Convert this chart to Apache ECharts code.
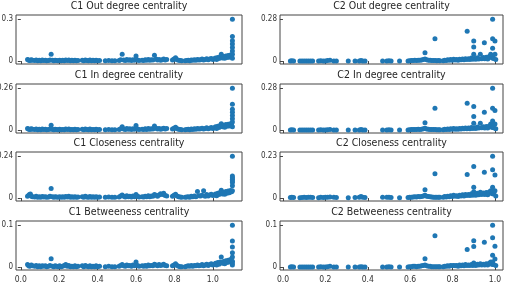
<!DOCTYPE html>
<html><head><meta charset="utf-8">
<script src="https://cdn.jsdelivr.net/npm/echarts@6/dist/echarts.min.js"></script>
<style>html,body{margin:0;padding:0;background:#fff}#c{width:509px;height:291px}</style>
</head><body><div id="c"></div>
<script>
// ---- C1 (shared x for the four C1 panels) ----
const c1X = [
 0.035,0.040,0.045,0.050,0.055,0.060,
 0.072,0.080,0.088,0.096,0.104,0.112,0.120,0.128,0.135,
 0.145,0.152,0.158,0.165,0.172,0.179,
 0.186,0.194,0.202,0.210,0.218,0.226,0.234,0.242,0.250,0.258,0.266,0.274,0.282,0.290,0.298,
 0.320,0.328,0.336,0.344,0.352,0.360,0.368,0.376,0.384,0.392,0.400,0.410,
 0.440,0.458,0.475,0.490,
 0.512,0.520,0.528,0.536,0.544,0.552,0.560,0.568,0.576,0.584,0.592,0.600,0.608,0.616,
 0.632,0.640,0.648,0.656,0.664,0.672,0.680,0.688,0.696,0.704,0.712,0.720,0.728,0.736,0.744,0.752,0.760,
 0.790,0.798,0.806,0.814,0.822,0.830,0.838,
 0.856,0.864,0.872,0.880,0.888,0.896,0.904,0.912,0.920,0.928,0.936,0.944,0.952,0.960,0.968,0.976,0.984,0.992,1.000,
 1.008,1.014,1.020,1.026,1.032,1.038,1.044,1.050,1.056,1.062,1.068,1.074,1.080,1.086,1.092,1.098,
 1.102,1.102,1.102,1.102,1.102,1.102,1.102,1.102
];
const c1Out = [
 0.012,0.008,0.004,0.006,0.010,0.006,
 0.004,0.008,0.003,0.006,0.002,0.007,0.004,0.006,0.003,
 0.004,0.008,0.049,0.005,0.003,0.006,
 0.004,0.002,0.006,0.003,0.005,0.002,0.007,0.004,0.008,0.003,0.005,0.002,0.006,0.003,0.004,
 0.006,0.003,0.008,0.004,0.002,0.007,0.003,0.005,0.002,0.006,0.003,0.004,
 0.003,0.004,0.002,0.003,
 0.004,0.010,0.049,0.008,0.004,0.012,0.006,0.009,0.004,0.010,0.006,0.037,0.008,0.004,
 0.006,0.004,0.009,0.005,0.012,0.006,0.010,0.008,0.041,0.014,0.008,0.012,0.006,0.010,0.014,0.008,0.012,
 0.008,0.014,0.024,0.010,0.006,0.004,0.002,
 0.002,0.004,0.006,0.003,0.008,0.005,0.010,0.006,0.012,0.007,0.010,0.014,0.008,0.012,0.016,0.010,0.014,0.018,0.012,
 0.016,0.022,0.012,0.026,0.018,0.030,0.049,0.022,0.032,0.020,0.036,0.026,0.040,0.028,0.044,0.034,
 0.300,0.176,0.146,0.122,0.098,0.073,0.049,0.020
];
const c1In = [
 0.010,0.006,0.003,0.005,0.008,0.005,
 0.003,0.006,0.002,0.005,0.002,0.006,0.003,0.005,0.002,
 0.003,0.006,0.030,0.004,0.002,0.005,
 0.003,0.002,0.005,0.002,0.004,0.002,0.006,0.003,0.007,0.002,0.004,0.002,0.005,0.002,0.003,
 0.005,0.002,0.007,0.003,0.002,0.006,0.002,0.004,0.002,0.005,0.002,0.003,
 0.002,0.003,0.002,0.002,
 0.003,0.008,0.020,0.006,0.003,0.010,0.005,0.008,0.003,0.008,0.005,0.028,0.006,0.003,
 0.005,0.003,0.008,0.004,0.010,0.005,0.008,0.006,0.025,0.012,0.006,0.010,0.005,0.008,0.012,0.006,0.010,
 0.006,0.012,0.018,0.008,0.005,0.003,0.002,
 0.002,0.003,0.005,0.002,0.007,0.004,0.008,0.005,0.010,0.006,0.008,0.012,0.007,0.010,0.014,0.008,0.012,0.016,0.010,
 0.014,0.020,0.010,0.024,0.016,0.028,0.040,0.020,0.030,0.018,0.034,0.024,0.036,0.026,0.040,0.030,
 0.260,0.160,0.130,0.110,0.090,0.070,0.050,0.020
];
const c1Clo = [
 0.010,0.015,0.020,0.023,0.012,0.008,
 0.006,0.010,0.005,0.008,0.004,0.009,0.006,0.008,0.005,
 0.006,0.010,0.055,0.007,0.005,0.008,
 0.006,0.004,0.008,0.005,0.007,0.004,0.009,0.006,0.010,0.005,0.007,0.004,0.008,0.005,0.006,
 0.008,0.005,0.010,0.006,0.004,0.009,0.005,0.007,0.004,0.008,0.005,0.006,
 0.005,0.006,0.004,0.005,
 0.006,0.012,0.018,0.010,0.006,0.014,0.008,0.011,0.006,0.012,0.008,0.020,0.010,0.006,
 0.008,0.006,0.011,0.007,0.014,0.008,0.012,0.010,0.020,0.016,0.010,0.018,0.025,0.020,0.028,0.015,0.012,
 0.010,0.016,0.022,0.012,0.008,0.006,0.004,
 0.004,0.006,0.008,0.005,0.010,0.007,0.012,0.008,0.038,0.014,0.012,0.016,0.042,0.010,0.020,0.012,0.018,0.022,0.015,
 0.018,0.024,0.014,0.028,0.020,0.032,0.045,0.024,0.034,0.022,0.038,0.028,0.040,0.030,0.044,0.036,
 0.240,0.127,0.117,0.108,0.098,0.089,0.070,0.042
];
const c1Btw = [
 0.006,0.004,0.002,0.003,0.005,0.003,
 0.002,0.004,0.001,0.003,0.001,0.003,0.002,0.003,0.001,
 0.002,0.004,0.020,0.002,0.001,0.003,
 0.002,0.001,0.003,0.001,0.002,0.004,0.006,0.002,0.004,0.001,0.002,0.001,0.003,0.001,0.002,
 0.003,0.001,0.004,0.002,0.001,0.003,0.001,0.002,0.001,0.003,0.001,0.002,
 0.001,0.002,0.001,0.001,
 0.002,0.004,0.006,0.003,0.002,0.005,0.003,0.004,0.002,0.005,0.003,0.012,0.004,0.002,
 0.003,0.002,0.004,0.002,0.005,0.003,0.004,0.003,0.007,0.005,0.003,0.006,0.004,0.005,0.007,0.004,0.003,
 0.003,0.005,0.008,0.004,0.002,0.001,0.001,
 0.001,0.002,0.003,0.002,0.004,0.002,0.004,0.003,0.005,0.003,0.004,0.006,0.003,0.005,0.007,0.004,0.006,0.008,0.005,
 0.006,0.009,0.005,0.011,0.007,0.012,0.024,0.009,0.013,0.008,0.015,0.011,0.016,0.012,0.018,0.014,
 0.100,0.062,0.048,0.034,0.024,0.014,0.010,0.005
];
// ---- C2 (shared x for the four C2 panels) ----
const c2X = [
 0.035,0.042,0.050,0.080,0.090,0.100,0.110,0.120,0.130,0.140,0.168,0.178,0.190,0.200,0.210,0.222,0.240,0.252,0.308,0.340,0.360,0.368,0.376,0.387,0.470,0.490,0.500,0.510,0.550,
 0.590,0.598,0.606,0.614,0.622,0.630,0.638,0.646,0.654,0.662,0.670,0.670,0.678,0.686,0.694,0.702,0.710,0.717,0.718,0.726,0.734,0.740,
 0.756,0.763,0.770,0.777,0.784,0.791,0.798,0.805,0.812,0.819,0.826,0.833,0.840,0.847,0.854,0.861,0.868,0.869,0.875,0.882,0.889,0.896,0.900,0.900,0.900,0.903,0.910,0.917,0.924,0.931,0.938,0.945,0.950,0.952,0.959,0.966,0.973,0.980,0.987,0.989,0.989,0.989,0.989,0.994,1.000,1.000,1.004
];
const c2Out = [
 0,0.002,0,0,0,0.001,0,0,0.001,0,0,0.002,0,0,0.003,0.006,0,0,0,0,0,0.004,0,0,0,0,0.002,0,0,
 0,0.002,0.003,0.004,0.005,0.004,0.006,0.005,0.007,0.010,0.056,0.014,0.008,0.006,0.005,0.004,0.003,0.150,0.003,0.002,0.003,0.002,
 0.002,0.006,0.004,0.008,0.005,0.010,0.006,0.012,0.007,0.010,0.006,0.012,0.008,0.014,0.009,0.016,0.010,0.200,0.015,0.010,0.020,0.012,0.134,0.094,0.045,0.018,0.012,0.022,0.014,0.045,0.016,0.024,0.123,0.015,0.026,0.014,0.030,0.045,0.020,0.280,0.150,0.085,0.030,0.018,0.134,0.045,0.010
];
const c2In = [
 0,0.002,0,0,0,0.001,0,0,0.001,0,0,0.002,0,0,0.002,0.004,0,0,0,0,0,0.003,0,0,0,0,0.002,0,0,
 0,0.002,0.003,0.004,0.004,0.003,0.005,0.004,0.006,0.008,0.049,0.012,0.007,0.005,0.004,0.003,0.003,0.146,0.003,0.002,0.002,0.002,
 0.002,0.005,0.003,0.007,0.004,0.009,0.005,0.010,0.006,0.009,0.005,0.011,0.007,0.012,0.008,0.014,0.009,0.180,0.013,0.009,0.018,0.011,0.157,0.090,0.045,0.016,0.011,0.020,0.013,0.045,0.015,0.022,0.119,0.014,0.024,0.013,0.028,0.040,0.018,0.280,0.146,0.060,0.028,0.016,0.130,0.040,0.009
];
const c2Clo = [
 0.003,0.004,0.003,0.002,0.003,0.004,0.003,0.004,0.005,0.003,0.002,0.004,0.003,0.004,0.005,0.006,0.004,0.003,0.002,0.003,0.004,0.008,0.004,0.003,0.004,0.005,0.004,0.003,0.002,
 0.003,0.004,0.005,0.006,0.007,0.006,0.008,0.007,0.009,0.012,0.046,0.016,0.010,0.008,0.007,0.006,0.005,0.133,0.005,0.004,0.005,0.004,
 0.004,0.008,0.006,0.010,0.007,0.013,0.009,0.015,0.010,0.013,0.009,0.016,0.011,0.018,0.012,0.020,0.014,0.129,0.019,0.014,0.024,0.016,0.173,0.059,0.035,0.022,0.016,0.026,0.018,0.032,0.020,0.028,0.142,0.019,0.030,0.018,0.034,0.040,0.024,0.230,0.155,0.059,0.035,0.022,0.127,0.040,0.012
];
const c2Btw = [
 0,0.001,0,0,0,0,0,0,0,0,0,0.001,0,0,0.001,0.002,0,0,0,0,0,0.001,0,0,0,0,0.001,0,0,
 0,0.001,0.001,0.002,0.002,0.001,0.002,0.002,0.003,0.004,0.020,0.005,0.003,0.002,0.002,0.001,0.001,0.075,0.001,0.001,0.001,0.001,
 0.001,0.002,0.002,0.003,0.002,0.004,0.003,0.004,0.003,0.004,0.002,0.005,0.003,0.005,0.003,0.006,0.004,0.042,0.005,0.004,0.006,0.004,0.063,0.049,0.010,0.006,0.004,0.007,0.005,0.008,0.005,0.007,0.059,0.005,0.008,0.005,0.009,0.012,0.006,0.100,0.070,0.028,0.012,0.006,0.050,0.019,0.004
];
// ---- titles and y tick maxima ----
const titles = [
 'C1 Out degree centrality','C2 Out degree centrality',
 'C1 In degree centrality','C2 In degree centrality',
 'C1 Closeness centrality','C2 Closeness centrality',
 'C1 Betweeness centrality','C2 Betweeness centrality'
];
const yTickMax = [0.3,0.28, 0.26,0.28, 0.24,0.23, 0.1,0.1];
const xTicks = [0.0,0.2,0.4,0.6,0.8,1.0];

const panelX = [c1X,c2X, c1X,c2X, c1X,c2X, c1X,c2X];
const panelY = [c1Out,c2Out, c1In,c2In, c1Clo,c2Clo, c1Btw,c2Btw];

const FONT = "'Liberation Sans Narrow','DejaVu Sans Condensed','Arial Narrow',sans-serif";
const cols = [{left:16,width:226,min:-0.025,max:1.152},{left:280,width:223,min:-0.014,max:1.038}];
const rowTop = [15,84,152,221];
const H = 49;
const AX = '#444';

const grid=[], xAxis=[], yAxis=[], series=[], title=[];
for (let i=0;i<8;i++){
  const c = cols[i%2], r = Math.floor(i/2), m = yTickMax[i];
  grid.push({left:c.left, top:rowTop[r], width:c.width, height:H, show:true,
    borderColor:AX, borderWidth:1, backgroundColor:'transparent', outerBoundsMode:'none', containLabel:false});
  title.push({text:titles[i], left:c.left + c.width/2, top:rowTop[r]-14, textAlign:'center', padding:0,
    textStyle:{fontFamily:FONT, fontSize:10.5, fontWeight:'normal', color:'#262626'}});
  xAxis.push({type:'value', gridIndex:i, min:c.min, max:c.max, splitLine:{show:false},
    axisLine:{show:false},
    axisTick:{show:true, length:3, lineStyle:{color:AX}, customValues:xTicks},
    axisLabel:{show:r===3, customValues:xTicks, formatter:v=>v.toFixed(1), fontFamily:FONT, fontSize:8.5, color:'#333', margin:5}});
  yAxis.push({type:'value', gridIndex:i, min:-0.07*m, max:1.1*m, splitLine:{show:false},
    axisLine:{show:false},
    axisTick:{show:true, length:3, lineStyle:{color:AX}, customValues:[0,m]},
    axisLabel:{customValues:[0,m], formatter:v=>(v===0?'0':String(v)), fontFamily:FONT, fontSize:8, color:'#333', margin:3}});
  series.push({type:'scatter', xAxisIndex:i, yAxisIndex:i, symbolSize:5, silent:true,
    itemStyle:{color:'#1f77b4', opacity:1},
    data: panelX[i].map((x,k)=>[x, panelY[i][k]])});
}
const chart = echarts.init(document.getElementById('c'), null, {renderer:'canvas'});
chart.setOption({animation:false, backgroundColor:'#fff', title, grid, xAxis, yAxis, series});
</script>
</body></html>
